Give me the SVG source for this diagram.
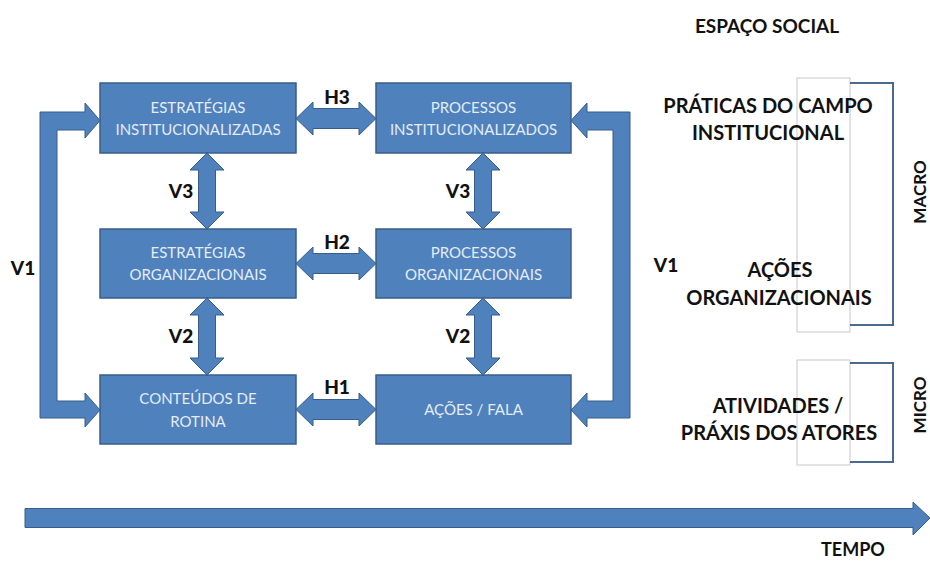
<svg xmlns="http://www.w3.org/2000/svg" width="930" height="561" viewBox="0 0 930 561">
<style>
.box{fill:#4f81bd;stroke:#385d8a;stroke-width:1.5}
.arr{fill:#4f81bd;stroke:#385d8a;stroke-width:1}
.bt{font-family:Lato,"Open Sans","Liberation Sans",sans-serif;font-size:15px;fill:#e4ecf7;text-anchor:middle}
.lb{font-family:Lato,"Open Sans","Liberation Sans",sans-serif;font-size:19px;font-weight:900;fill:#111;text-anchor:middle}
.rt{font-family:Lato,"Open Sans","Liberation Sans",sans-serif;font-size:20px;font-weight:bold;fill:#111;text-anchor:middle}
.hd{font-family:Lato,"Open Sans","Liberation Sans",sans-serif;font-size:18px;font-weight:bold;fill:#111;text-anchor:middle}
.gr{fill:#fff;stroke:#c8c8c8;stroke-width:1}
.br{fill:none;stroke:#4a6890;stroke-width:2}
</style>
<rect width="930" height="561" fill="#fff"/>
<g id="connectors">
<polygon class="arr" points="40,112 85,112 85,103 100,120.5 85,138 85,130 57,130 57,401 85,401 85,393 100,410 85,427 85,418 40,418"/>
<polygon class="arr" points="630,112 587,112 587,103 571,120.5 587,138 587,130 613,130 613,401 587,401 587,393 571,410 587,427 587,418 630,418"/>
<polygon class="arr" points="207,153 224,170 215.5,170 215.5,212 224,212 207,229 190,212 198.5,212 198.5,170 190,170"/>
<polygon class="arr" points="207,298 224,315 215.5,315 215.5,358 224,358 207,375 190,358 198.5,358 198.5,315 190,315"/>
<polygon class="arr" points="483,153 500,170 491.5,170 491.5,212 500,212 483,229 466,212 474.5,212 474.5,170 466,170"/>
<polygon class="arr" points="483,298 500,315 491.5,315 491.5,358 500,358 483,375 466,358 474.5,358 474.5,315 466,315"/>
<polygon class="arr" points="296,118.5 313,102 313,108.5 359,108.5 359,102 376,118.5 359,135 359,128.5 313,128.5 313,135"/>
<polygon class="arr" points="296,263.5 313,247 313,253.5 359,253.5 359,247 376,263.5 359,280 359,273.5 313,273.5 313,280"/>
<polygon class="arr" points="296,409.5 313,393 313,399.5 359,399.5 359,393 376,409.5 359,426 359,419.5 313,419.5 313,426"/>
<polygon class="arr" points="25,508.5 913,508.5 913,502 930,518 913,535 913,527.5 25,527.5"/>
</g>
<g id="labels">
<text class="lb" x="23" y="275">V1</text>
<text class="lb" x="666" y="272">V1</text>
<text class="lb" x="181" y="198">V3</text>
<text class="lb" x="181" y="343">V2</text>
<text class="lb" x="458" y="198">V3</text>
<text class="lb" x="458" y="343">V2</text>
<text class="lb" x="337" y="104">H3</text>
<text class="lb" x="337" y="249">H2</text>
<text class="lb" x="337" y="394">H1</text>
</g>
<g id="n1"><rect class="box" x="100" y="83" width="196" height="70"/><text class="bt" x="198" y="113">ESTRATÉGIAS</text><text class="bt" x="198" y="135">INSTITUCIONALIZADAS</text></g>
<g id="n2"><rect class="box" x="376" y="83" width="195" height="70"/><text class="bt" x="473.5" y="113">PROCESSOS</text><text class="bt" x="473.5" y="135">INSTITUCIONALIZADOS</text></g>
<g id="n3"><rect class="box" x="100" y="229" width="196" height="69"/><text class="bt" x="198" y="258">ESTRATÉGIAS</text><text class="bt" x="198" y="280">ORGANIZACIONAIS</text></g>
<g id="n4"><rect class="box" x="376" y="229" width="195" height="69"/><text class="bt" x="473.5" y="258">PROCESSOS</text><text class="bt" x="473.5" y="280">ORGANIZACIONAIS</text></g>
<g id="n5"><rect class="box" x="100" y="375" width="196" height="69"/><text class="bt" x="198" y="404">CONTEÚDOS DE</text><text class="bt" x="198" y="427">ROTINA</text></g>
<g id="n6"><rect class="box" x="376" y="375" width="195" height="69"/><text class="bt" x="473.5" y="415">AÇÕES / FALA</text></g>
<g id="social">
<text class="hd" x="767" y="33" style="font-size:19px">ESPAÇO SOCIAL</text>
<rect class="gr" x="797" y="78" width="53" height="254"/>
<rect class="gr" x="797" y="360" width="53" height="105"/>
<polyline class="br" points="850,83 893,83 893,325 850,325"/>
<polyline class="br" points="850,363 893,363 893,462 850,462"/>
<text class="rt" x="768" y="113">PRÁTICAS DO CAMPO</text>
<text class="rt" x="768" y="140">INSTITUCIONAL</text>
<text class="rt" x="780" y="277">AÇÕES</text>
<text class="rt" x="779" y="305">ORGANIZACIONAIS</text>
<text class="rt" x="778" y="413">ATIVIDADES /</text>
<text class="rt" x="779" y="440">PRÁXIS DOS ATORES</text>
<text class="hd" transform="translate(926,192) rotate(-90)" style="font-size:17px">MACRO</text>
<text class="hd" transform="translate(926,405) rotate(-90)" style="font-size:17px">MICRO</text>
<text class="hd" x="853" y="556">TEMPO</text>
</g>
</svg>
